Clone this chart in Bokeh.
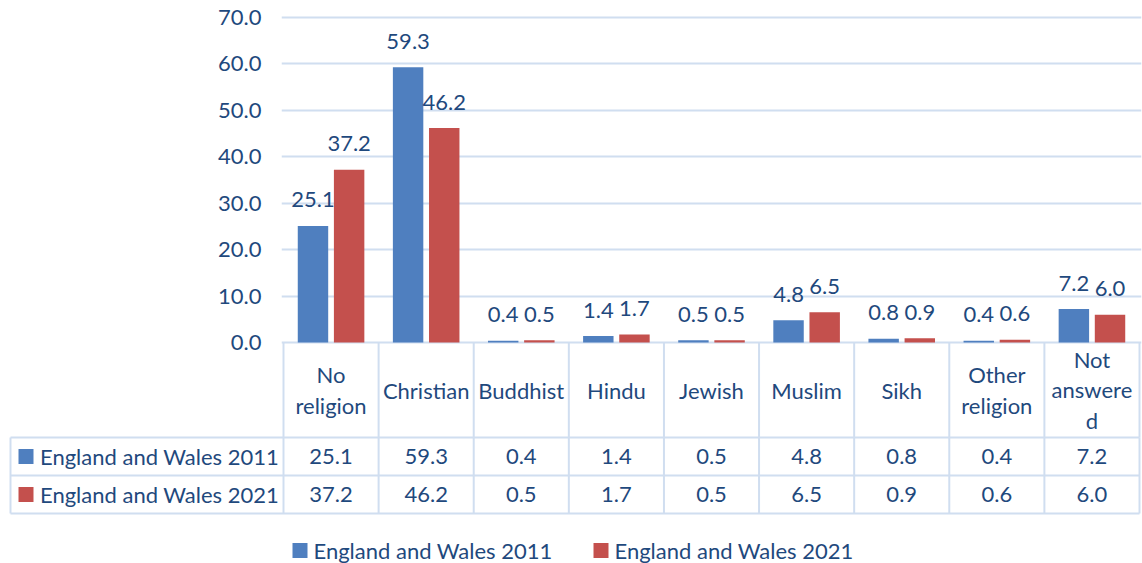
import numpy as np
from bokeh.plotting import figure
from bokeh.models import Range1d, FixedTicker, NumeralTickFormatter, ColumnDataSource
from bokeh.core.properties import value
from bokeh.embed import file_html
from bokeh.resources import INLINE

# ---------------- data ----------------
categories = ["No\nreligion", "Christian", "Buddhist", "Hindu", "Jewish",
              "Muslim", "Sikh", "Other\nreligion", "Not\nanswere\nd"]
series_names = ["England and Wales 2011", "England and Wales 2021"]
values_2011 = [25.1, 59.3, 0.4, 1.4, 0.5, 4.8, 0.8, 0.4, 7.2]
values_2021 = [37.2, 46.2, 0.5, 1.7, 0.5, 6.5, 0.9, 0.6, 6.0]
y_ticks = [0, 10, 20, 30, 40, 50, 60, 70]

# ---------------- style / layout ----------------
FONT = "Lato"
FS = "22px"
TXT = "#1F497D"
GRID = "#D0DEF0"
BLUE = "#4F7FBF"
RED = "#C4504D"
COLORS = [BLUE, RED]

W, H = 1142, 563
FR_L, FR_R, FR_T, FR_B = 281, 1141, 15, 345      # frame box (px)
AX_L, AX_R = 283, 1139                           # x of first / last column border
Y70, Y0 = 17, 342                                # px of 70 and 0
n = len(categories)
idx = np.arange(n)

PX = (AX_R - AX_L) / n
YPX = (Y0 - Y70) / 70.0
x_start = -0.5 - (AX_L - FR_L) / PX
x_end = n - 0.5 + (FR_R - AX_R) / PX
y_end = 70 + (Y70 - FR_T) / YPX
y_start = -(FR_B - Y0) / YPX


def ydat(px):
    return (Y0 - px) / YPX


def xdat(px):
    return -0.5 + (px - AX_L) / PX


HEADER_H = 95
ROW_H = 38
TABLE_LEFT = 10
OFF = 0.19
BW = 0.32
LEG_Y = 550
LEG_X = [299.5, 600.5]

p = figure(width=W, height=H, x_range=Range1d(x_start, x_end),
           y_range=Range1d(y_start, y_end), output_backend="svg", toolbar_location=None,
           x_axis_location=None, y_axis_location="left",
           min_border_left=FR_L, min_border_right=W - FR_R,
           min_border_top=FR_T, min_border_bottom=H - FR_B)
p.outline_line_color = None
p.background_fill_color = "white"
p.border_fill_color = "white"

yax = p.yaxis[0]
yax.ticker = FixedTicker(ticks=y_ticks)
yax.formatter = NumeralTickFormatter(format="0.0")
yax.axis_line_color = None
yax.major_tick_line_color = None
yax.minor_tick_line_color = None
yax.major_tick_out = 0
yax.major_tick_in = 0
yax.major_label_standoff = 20
yax.major_label_text_font = FONT
yax.major_label_text_font_size = FS
yax.major_label_text_color = TXT

p.xgrid.visible = False
p.ygrid.ticker = FixedTicker(ticks=y_ticks)
p.ygrid.grid_line_color = GRID
p.ygrid.grid_line_width = 2

# ---------------- bars + labels ----------------
src = ColumnDataSource(dict(
    x11=idx - OFF, x21=idx + OFF,
    v11=values_2011, v21=values_2021,
    l11=[f"{v:.1f}" for v in values_2011],
    l21=[f"{v:.1f}" for v in values_2021],
))
p.vbar(x="x11", top="v11", bottom=0, width=BW, source=src,
       fill_color=BLUE, line_color=None)
p.vbar(x="x21", top="v21", bottom=0, width=BW, source=src,
       fill_color=RED, line_color=None)
for xs, ls, vs in (("x11", "l11", "v11"), ("x21", "l21", "v21")):
    p.text(x=xs, y=vs, text=ls, source=src, text_align="center",
           text_baseline="middle", y_offset=-26,
           text_font=value(FONT), text_font_size=FS, text_color=TXT)

# ---------------- data table (drawn below the frame) ----------------
bounds = np.arange(n + 1) - 0.5
x_left = xdat(TABLE_LEFT)
y_head = ydat(Y0 + HEADER_H)
row_lines = [ydat(Y0 + HEADER_H + ROW_H * k) for k in range(3)]
row_centers = [ydat(Y0 + HEADER_H + ROW_H * (k + 0.5)) for k in range(2)]

# header row borders + category names
p.segment(x0=bounds, y0=[0] * (n + 1), x1=bounds, y1=[y_head] * (n + 1),
          line_color=GRID, line_width=2, level="overlay")
p.text(x=idx, y=[ydat(Y0 + HEADER_H / 2)] * n, text=categories, text_align="center",
       text_baseline="middle", text_line_height=1.12, level="overlay",
       text_font=value(FONT), text_font_size=FS, text_color=TXT)

# series rows
p.segment(x0=[x_left] * 3, y0=row_lines, x1=[n - 0.5] * 3, y1=row_lines,
          line_color=GRID, line_width=2, level="overlay")
vx = [x_left] + list(bounds)
p.segment(x0=vx, y0=[row_lines[0]] * len(vx), x1=vx, y1=[row_lines[-1]] * len(vx),
          line_color=GRID, line_width=2, level="overlay")

key_src = ColumnDataSource(dict(x=[x_left + 15.5 / PX] * 2, y=row_centers,
                                color=COLORS, name=series_names))
p.rect(x="x", y="y", width=15, height=15, width_units="screen",
       height_units="screen", fill_color="color", line_color=None,
       source=key_src, level="overlay")
p.text(x="x", y="y", text="name", source=key_src, x_offset=14, text_align="left",
       text_baseline="middle", text_font=value(FONT), text_font_size=FS,
       text_color=TXT, level="overlay")

vals_x = list(idx) * 2
vals_y = [row_centers[0]] * n + [row_centers[1]] * n
vals_t = [f"{v:.1f}" for v in values_2011] + [f"{v:.1f}" for v in values_2021]
p.text(x=vals_x, y=vals_y, text=vals_t, text_align="center", text_baseline="middle",
       text_font=value(FONT), text_font_size=FS, text_color=TXT, level="overlay")

# ---------------- bottom legend ----------------
leg_src = ColumnDataSource(dict(x=[xdat(v) for v in LEG_X], y=[ydat(LEG_Y)] * 2,
                                color=COLORS, name=series_names))
p.rect(x="x", y="y", width=15, height=15, width_units="screen",
       height_units="screen", fill_color="color", line_color=None,
       source=leg_src, level="overlay")
p.text(x="x", y="y", text="name", source=leg_src, x_offset=13.5, text_align="left",
       text_baseline="middle", text_font=value(FONT), text_font_size=FS,
       text_color=TXT, level="overlay")

open("out.html", "w").write(file_html(p, INLINE))
